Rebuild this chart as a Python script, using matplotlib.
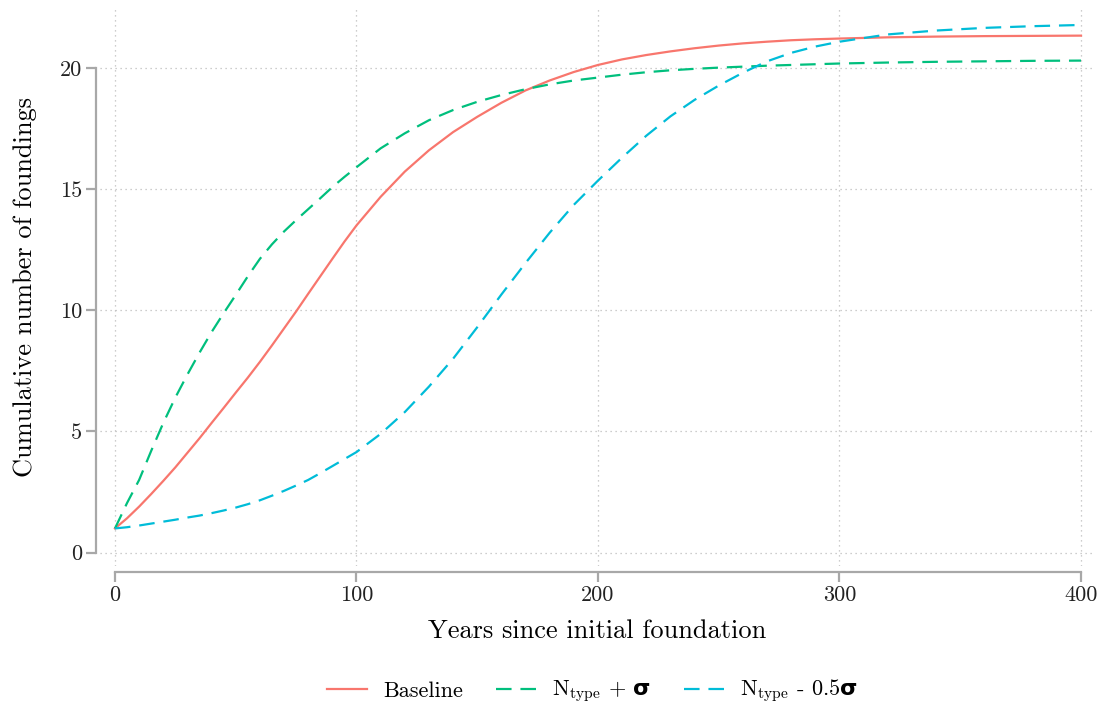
import numpy as np
import matplotlib
matplotlib.use("Agg")
import matplotlib.pyplot as plt
from matplotlib.lines import Line2D

plt.rcParams['font.family'] = ['cmr10', 'DejaVu Serif']
plt.rcParams['mathtext.fontset'] = 'custom'
plt.rcParams['mathtext.rm'] = 'cmr10'
plt.rcParams['mathtext.it'] = 'cmr10'
plt.rcParams['mathtext.bf'] = 'DejaVu Sans:bold'
plt.rcParams['axes.unicode_minus'] = False

# ---- data ----
years = [0, 5, 10, 15, 20, 25, 30, 35, 40, 45, 50, 55, 60, 65, 70, 75, 80, 85,
         90, 95, 100, 110, 120, 130, 140, 150, 160, 170, 180, 190, 200, 210,
         220, 230, 240, 250, 260, 270, 280, 290, 300, 320, 340, 360, 380, 400]
baseline = [1.0, 1.42, 1.9, 2.42, 2.96, 3.52, 4.12, 4.72, 5.35, 5.97, 6.6, 7.22,
            7.87, 8.55, 9.25, 9.95, 10.68, 11.4, 12.12, 12.83, 13.5, 14.68,
            15.72, 16.6, 17.35, 17.98, 18.56, 19.07, 19.48, 19.83, 20.12, 20.35,
            20.53, 20.68, 20.81, 20.92, 21.01, 21.08, 21.14, 21.18, 21.21,
            21.26, 21.29, 21.31, 21.32, 21.33]
plus_sigma = [1.0, 2.05, 3.0, 4.2, 5.35, 6.4, 7.35, 8.25, 9.1, 9.88, 10.63,
              11.4, 12.12, 12.72, 13.25, 13.72, 14.17, 14.62, 15.08, 15.5, 15.9,
              16.68, 17.3, 17.84, 18.26, 18.6, 18.88, 19.12, 19.32, 19.48, 19.6,
              19.72, 19.82, 19.9, 19.96, 20.01, 20.05, 20.09, 20.12, 20.15,
              20.18, 20.22, 20.25, 20.27, 20.29, 20.3]
minus_half_sigma = [1.0, 1.05, 1.12, 1.2, 1.28, 1.36, 1.45, 1.53, 1.63, 1.74,
                    1.86, 2.0, 2.16, 2.35, 2.55, 2.77, 3.0, 3.28, 3.57, 3.86,
                    4.15, 4.9, 5.8, 6.85, 8.0, 9.3, 10.65, 11.95, 13.2, 14.35,
                    15.35, 16.3, 17.2, 18.0, 18.68, 19.27, 19.8, 20.27, 20.62,
                    20.88, 21.08, 21.38, 21.54, 21.65, 21.72, 21.77]

labels = ['Baseline', r'N$_{\mathrm{type}}$ + $\mathbf{σ}$',
          r'N$_{\mathrm{type}}$ - 0.5$\mathbf{σ}$']
colors = ['#F8766D', '#00BF7D', '#00BCD8']
x_ticks = [0, 100, 200, 300, 400]
y_ticks = [0, 5, 10, 15, 20]

fig = plt.figure(figsize=(11.05, 7.06), dpi=100)
ax = fig.add_axes([100/1105, 1-566/706, 995/1105, 558/706])

dash = (0, (7, 4))
ax.plot(years, baseline, color=colors[0], lw=1.6, label=labels[0], zorder=3)
ax.plot(years, plus_sigma, color=colors[1], lw=1.6, ls=dash, label=labels[1], zorder=3)
ax.plot(years, minus_half_sigma, color=colors[2], lw=1.6, ls=dash, label=labels[2], zorder=3)

ax.set_xlim(-6.2, 405.8)
ax.set_ylim(-0.55, 22.47)
ax.set_xticks(x_ticks)
ax.set_yticks(y_ticks)

ax.grid(True, ls=(0, (1, 3)), color='#bdbdbd', lw=0.9)
ax.set_axisbelow(True)

spc = '#a8a8a8'
for s in ['top', 'right']:
    ax.spines[s].set_visible(False)
ax.spines['left'].set_position(('outward', 3))
ax.spines['bottom'].set_position(('outward', 4))
ax.spines['left'].set_bounds(0, 20)
ax.spines['bottom'].set_bounds(0, 400)
for s in ['left', 'bottom']:
    ax.spines[s].set_color(spc)
    ax.spines[s].set_linewidth(1.6)
ax.tick_params(axis='both', color=spc, length=7, width=1.6, labelsize=16,
               labelcolor='#222222', pad=3)

ax.set_xlabel('Years since initial foundation', fontsize=19, labelpad=10)
ax.set_ylabel('Cumulative number of foundings', fontsize=19, labelpad=16)

handles = [Line2D([], [], color=colors[0], lw=1.6),
           Line2D([], [], color=colors[1], lw=1.6, ls=dash),
           Line2D([], [], color=colors[2], lw=1.6, ls=dash)]
fig.legend(handles, labels, loc='center', bbox_to_anchor=(0.536, 0.02), ncol=3,
           frameon=False, fontsize=16, handlelength=1.8, handletextpad=0.7,
           columnspacing=1.5)

fig.savefig('out.png', dpi=100, facecolor='white')
